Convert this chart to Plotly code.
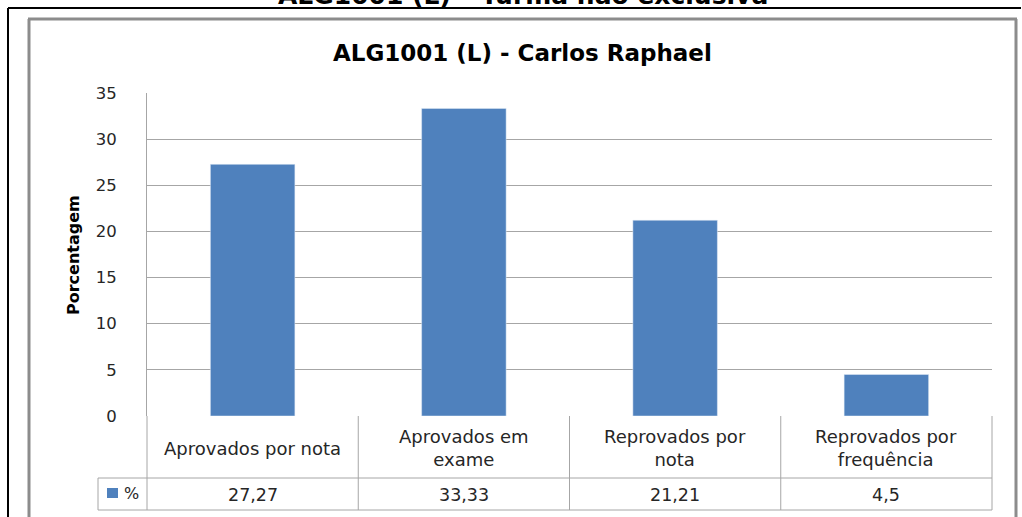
import plotly.graph_objects as go

categories = ["Aprovados por nota", "Aprovados em exame", "Reprovados por nota", "Reprovados por frequência"]
cat_labels = ["Aprovados por nota", "Aprovados em<br>exame", "Reprovados por<br>nota", "Reprovados por<br>frequência"]
values = [27.27, 33.33, 21.21, 4.5]
series_name = "%"
y_ticks = [0, 5, 10, 15, 20, 25, 30, 35]

W, H = 1022, 517
L, R, T, B = 147, 992, 93, 416
BAR = "#4F81BD"
FONT = "DejaVu Sans"
TXT = "#262626"

def px(x):
    return (x - L) / (R - L)

def py(y):
    return (B - y) / (B - T)

fig = go.Figure(go.Bar(x=categories, y=values, marker_color=BAR, width=0.4, name=series_name))

shapes = []
ann = []
# outer black frame (top and left lines)
shapes.append(dict(type="line", xref="paper", yref="paper", x0=px(8), x1=px(1021), y0=py(8), y1=py(8),
                   line=dict(color="black", width=2)))
shapes.append(dict(type="line", xref="paper", yref="paper", x0=px(8), x1=px(8), y0=py(8), y1=py(520),
                   line=dict(color="black", width=2)))
# chart area gray frame
for (x0, y0, x1, y1) in [(28, 19, 1017, 19), (29, 19, 29, 520), (1016, 19, 1016, 520)]:
    shapes.append(dict(type="line", xref="paper", yref="paper", x0=px(x0), x1=px(x1), y0=py(y0), y1=py(y1),
                       line=dict(color="#8c8c8c", width=3)))

# data table
TC = "#a6a6a6"
row1_bot, row2_bot = 478, 510
n = len(categories)
for i in range(n + 1):
    xx = px(L + i * (R - L) / n)
    shapes.append(dict(type="line", xref="paper", yref="paper", x0=xx, x1=xx, y0=py(B), y1=py(row2_bot),
                       line=dict(color=TC, width=1)))
shapes.append(dict(type="line", xref="paper", yref="paper", x0=px(L), x1=px(R), y0=py(row1_bot), y1=py(row1_bot),
                   line=dict(color=TC, width=1)))
shapes.append(dict(type="line", xref="paper", yref="paper", x0=px(98), x1=px(L), y0=py(row1_bot), y1=py(row1_bot),
                   line=dict(color=TC, width=1)))
shapes.append(dict(type="line", xref="paper", yref="paper", x0=px(98), x1=px(R), y0=py(row2_bot), y1=py(row2_bot),
                   line=dict(color=TC, width=1)))
shapes.append(dict(type="line", xref="paper", yref="paper", x0=px(98), x1=px(98), y0=py(row1_bot), y1=py(row2_bot),
                   line=dict(color=TC, width=1)))
# legend key
shapes.append(dict(type="rect", xref="paper", yref="paper", x0=px(107), x1=px(118), y0=py(498), y1=py(488),
                   fillcolor=BAR, line=dict(width=0)))
ann.append(dict(text=series_name, xref="paper", yref="paper", x=px(122), y=py(493), xanchor="left", yanchor="middle",
                showarrow=False, font=dict(family=FONT, size=16, color=TXT)))

for c, lab, v in zip(categories, cat_labels, values):
    ann.append(dict(text=lab, xref="x", yref="paper", x=c, y=py((B + row1_bot) / 2 + 1), xanchor="center",
                    yanchor="middle", showarrow=False, font=dict(family=FONT, size=18, color=TXT)))
    ann.append(dict(text=str(v).replace(".", ","), xref="x", yref="paper", x=c, y=py((row1_bot + row2_bot) / 2 + 1),
                    xanchor="center", yanchor="middle", showarrow=False, font=dict(family=FONT, size=17.5, color=TXT)))

# clipped page title
ann.append(dict(text="<b>ALG1001 (L) – Turma não exclusiva</b>", xref="paper", yref="paper", x=px(523), y=py(12),
                xanchor="center", yanchor="bottom", showarrow=False, font=dict(family=FONT, size=25, color="black")))
# chart title
ann.append(dict(text="<b>ALG1001 (L) - Carlos Raphael</b>", xref="paper", yref="paper", x=px(522), y=py(53),
                xanchor="center", yanchor="middle", showarrow=False, font=dict(family=FONT, size=23, color="black")))
# y title
ann.append(dict(text="<b>Porcentagem</b>", xref="paper", yref="paper", x=px(73), y=py(255), textangle=-90,
                xanchor="center", yanchor="middle", showarrow=False, font=dict(family=FONT, size=16, color="black")))

fig.update_layout(
    width=W, height=H,
    margin=dict(l=L, r=W - R, t=T, b=H - B, pad=0),
    paper_bgcolor="white", plot_bgcolor="white",
    showlegend=False,
    shapes=shapes, annotations=ann,
    xaxis=dict(showticklabels=False, showgrid=False, zeroline=False, showline=False, ticks=""),
    yaxis=dict(range=[0, 35], tickvals=y_ticks, showgrid=True, gridcolor="#a6a6a6", gridwidth=1,
               zeroline=False, showline=True, linecolor="#a6a6a6", linewidth=1, ticks="",
               ticklabelstandoff=26, tickfont=dict(family=FONT, size=16.5, color=TXT)),
)
fig.write_html("out.html", config={"displayModeBar": False},
               post_script="document.body.style.margin='0';document.body.style.padding='0';")
